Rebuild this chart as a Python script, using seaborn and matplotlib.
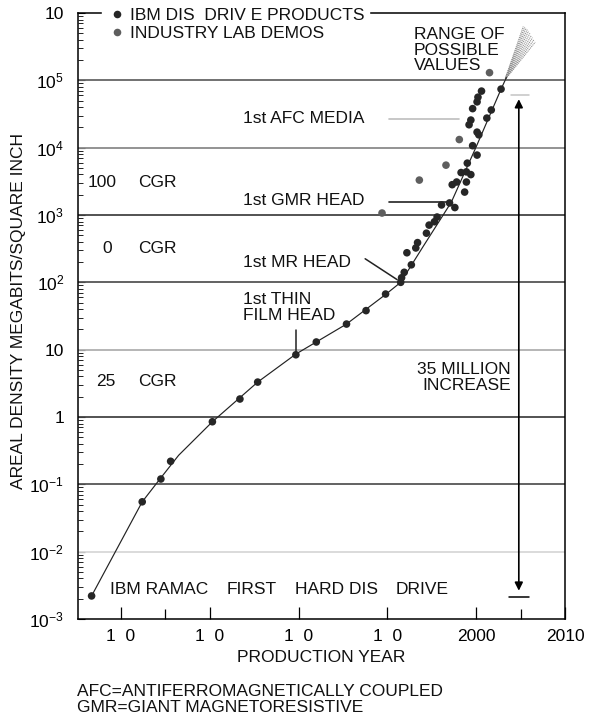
import numpy as np
import pandas as pd
import matplotlib
matplotlib.use("Agg")
import matplotlib.pyplot as plt
import seaborn as sns
from matplotlib.ticker import FixedLocator, LogLocator, NullFormatter

# ---------------- data ----------------
product_years = [1956.7, 1962.4, 1964.5, 1965.6, 1970.3, 1973.4, 1975.4, 1979.7,
                 1982.0, 1985.4, 1987.6, 1989.8, 1991.5, 1991.6, 1991.9, 1992.7,
                 1992.2, 1993.2, 1993.4, 1994.4, 1994.7, 1995.3, 1995.6, 1996.1,
                 1997.0, 1997.6, 1997.3, 1997.8, 1998.9, 1998.7, 1998.3, 1998.9,
                 1999.4, 1999.0, 2000.1, 1999.6, 2000.3, 2000.1, 1999.2, 1999.4,
                 2001.2, 1999.6, 2001.7, 2000.1, 2000.2, 2000.6, 2002.8]
product_density = [0.0022, 0.055, 0.12, 0.22, 0.85, 1.85, 3.3, 8.4,
                   13, 24, 38, 67, 100, 117, 141, 182,
                   275, 324, 389, 537, 708, 794, 933, 1410,
                   1510, 1290, 2820, 3090, 3090, 2190, 4270, 4370,
                   3980, 5890, 7760, 10700, 15500, 17000, 21900, 25700,
                   27500, 38000, 36300, 47900, 56200, 69200, 74100]
demo_years = [1989.4, 1993.6, 1996.6, 1998.1, 2001.5]
demo_density = [1070, 3300, 5500, 13200, 130000]

trend_years = [1956.7, 1962.4, 1964.5, 1966.5, 1970.3, 1975.4, 1979.7, 1985.4,
               1989.8, 1991.5, 1994.0, 1997.2, 2000.0, 2002.8, 2003.4]
trend_density = [0.0022, 0.055, 0.125, 0.27, 0.85, 3.3, 8.6, 24,
                 66, 100, 336, 1550, 10300, 74000, 110000]

fan_apex_year, fan_apex_density = 2003.2, 1.0e5
fan_end_years = [2005.3, 2005.45, 2005.6, 2005.75, 2005.9, 2006.05, 2006.2,
                 2006.35, 2006.5, 2006.65]
fan_end_density = [6.3e5, 6.2e5, 6.0e5, 5.7e5, 5.4e5, 5.0e5, 4.6e5,
                   4.3e5, 4.0e5, 3.7e5]

decades = [-3, -2, -1, 0, 1, 2, 3, 4, 5, 6]
ytick_labels = ['10$^{-3}$', '10$^{-2}$', '10$^{-1}$', '1', '10',
                '10$^{2}$', '10$^{3}$', '10$^{4}$', '10$^{5}$', '10']
grid_colors = ['none', '#d8d8d8', '#555555', '#444444', '#b0b0b0',
               '#555555', '#444444', '#8a8a8a', '#666666', 'none']
xtick_years = [1960, 1970, 1980, 1990, 2000, 2010]
xtick_labels = ['1  0', '1  0', '1  0', '1  0', '2000', '2010']
xminor_years = [1965, 2005]

LAB_PROD = 'IBM DIS  DRIV E PRODUCTS'
LAB_DEMO = 'INDUSTRY LAB DEMOS'

df = pd.DataFrame({
    'year': product_years + demo_years,
    'density': product_density + demo_density,
    'source': [LAB_PROD] * len(product_years) + [LAB_DEMO] * len(demo_years),
})

# ---------------- style ----------------
sns.set_theme(style='white')
plt.rcParams['font.family'] = ['Liberation Sans', 'DejaVu Sans']
plt.rcParams['mathtext.fontset'] = 'custom'
plt.rcParams['mathtext.rm'] = 'Liberation Sans'
plt.rcParams['mathtext.it'] = 'Liberation Sans'
plt.rcParams['mathtext.bf'] = 'Liberation Sans:bold'
plt.rcParams['text.color'] = '#111111'
FS = 12.5

fig = plt.figure(figsize=(5.89, 7.22), dpi=100)
W, H = 589, 722
ax = fig.add_axes([78 / W, 1 - 619 / H, (565 - 78) / W, (619 - 13) / H])
ax.set_yscale('log')
ax.set_xlim(1955.17, 2010)
ax.set_ylim(1e-3, 1e6)

# horizontal decade lines
for d, c in zip(decades, grid_colors):
    if c != 'none':
        ax.axhline(10.0 ** d, color=c, lw=1.3, zorder=1)

# fan of possible values
for ey, ed in zip(fan_end_years, fan_end_density):
    ax.plot([fan_apex_year, ey], [fan_apex_density, ed], color='#8c8c8c',
            lw=0.7, ls=(0, (1.2, 0.8)), zorder=2)

# trend line
sns.lineplot(x=trend_years, y=trend_density, ax=ax, color='#222222', lw=0.85,
             sort=False, estimator=None, zorder=3)

# points
sns.scatterplot(data=df, x='year', y='density', hue='source',
                palette={LAB_PROD: '#262626', LAB_DEMO: '#5e5e5e'},
                s=30, edgecolor='none', ax=ax, zorder=4)

handles, labels = ax.get_legend_handles_labels()
leg = ax.legend(handles, labels, loc='upper left',
                bbox_to_anchor=(102 / W, 1 - 3 / H), bbox_transform=fig.transFigure,
                frameon=True, facecolor='white', edgecolor='white', framealpha=1,
                fancybox=False, fontsize=FS, borderpad=0.3, borderaxespad=0,
                handlelength=1.1, handletextpad=0.2, labelspacing=0.15,
                markerscale=1.0)
leg.set_zorder(10)

# ---------------- axes / ticks ----------------
for s in ax.spines.values():
    s.set_color('black')
    s.set_linewidth(1.1)
    s.set_visible(True)

ax.yaxis.set_major_locator(FixedLocator([10.0 ** d for d in decades]))
ax.set_yticklabels(ytick_labels)
ax.yaxis.set_minor_locator(LogLocator(base=10, subs=np.arange(2, 10)))
ax.yaxis.set_minor_formatter(NullFormatter())
ax.tick_params(axis='y', which='major', direction='in', left=True, length=5,
               width=0.8, pad=10, labelsize=FS, colors='black')
ax.tick_params(axis='y', which='minor', direction='in', left=True, length=3.5,
               width=0.6, colors='black')

ax.set_xticks(xtick_years)
ax.set_xticklabels(xtick_labels)
ax.set_xticks(xminor_years, minor=True)
ax.tick_params(axis='x', which='major', direction='in', bottom=True, length=9,
               width=0.9, pad=7, labelsize=FS, colors='black')
ax.tick_params(axis='x', which='minor', direction='in', bottom=True, length=7.5,
               width=0.9, colors='black')

ax.set_xlabel('PRODUCTION YEAR', fontsize=FS, va='center', color='#111111')
ax.xaxis.set_label_coords(0.5, (619 - 657) / 606)
ax.set_ylabel('AREAL DENSITY MEGABITS/SQUARE INCH', fontsize=FS, va='center',
              color='#111111')
ax.yaxis.set_label_coords((19 - 78) / 487, (619 - 311) / 606)

# ---------------- annotations ----------------
def ly(v):
    return 10.0 ** v

ax.text(1993.0, ly(5.45), 'RANGE OF\nPOSSIBLE\nVALUES', fontsize=FS,
        ha='left', va='center', linespacing=1.05)
ax.text(1973.7, ly(4.43), '1st AFC MEDIA', fontsize=FS, ha='left', va='center')
ax.plot([1990.2, 1998.1], [ly(4.43)] * 2, color='#bdbdbd', lw=1.2, zorder=2)
ax.text(1973.7, ly(3.21), '1st GMR HEAD', fontsize=FS, ha='left', va='center')
ax.plot([1990.2, 1997.0], [ly(3.195)] * 2, color='#222222', lw=1.2, zorder=2)
ax.text(1973.7, ly(2.30), '1st MR HEAD', fontsize=FS, ha='left', va='center')
ax.plot([1987.5, 1991.1], [ly(2.35), ly(2.04)], color='#222222', lw=1.1, zorder=2)
ax.text(1973.7, ly(1.63), '1st THIN\nFILM HEAD', fontsize=FS, ha='left',
        va='center', linespacing=1.05)
ax.plot([1979.7, 1979.7], [ly(1.29), ly(0.95)], color='#222222', lw=1.1, zorder=2)

ax.text(1956.2, ly(3.48), '100', fontsize=FS, ha='left', va='center')
ax.text(1961.9, ly(3.48), 'CGR', fontsize=FS, ha='left', va='center')
ax.text(1957.9, ly(2.50), '0', fontsize=FS, ha='left', va='center')
ax.text(1961.9, ly(2.50), 'CGR', fontsize=FS, ha='left', va='center')
ax.text(1957.2, ly(0.52), '25', fontsize=FS, ha='left', va='center')
ax.text(1961.9, ly(0.52), 'CGR', fontsize=FS, ha='left', va='center')

ax.text(2003.9, ly(0.59), '35 MILLION\nINCREASE', fontsize=FS, ha='right',
        va='center', multialignment='right', linespacing=1.05)

ax.text(1958.76, ly(-2.56), 'IBM RAMAC', fontsize=FS, ha='left', va='center')
ax.text(1971.9, ly(-2.56), 'FIRST', fontsize=FS, ha='left', va='center')
ax.text(1979.55, ly(-2.56), 'HARD DIS', fontsize=FS, ha='left', va='center')
ax.text(1990.9, ly(-2.56), 'DRIVE', fontsize=FS, ha='left', va='center')

# 35 million increase arrow
ax.annotate('', xy=(2004.8, ly(4.72)), xytext=(2004.8, ly(-2.58)),
            arrowprops=dict(arrowstyle='<|-|>', color='black', lw=1.2,
                            mutation_scale=12, shrinkA=0, shrinkB=0), zorder=5)
ax.plot([2003.7, 2006.0], [ly(-2.67)] * 2, color='black', lw=1.1, zorder=5)
ax.plot([2003.9, 2006.0], [ly(4.78)] * 2, color='#c4c4c4', lw=1.1, zorder=5)

fig.text(77 / W, 1 - 692 / H, 'AFC=ANTIFERROMAGNETICALLY COUPLED', fontsize=FS,
         ha='left', va='center')
fig.text(77 / W, 1 - 707 / H, 'GMR=GIANT MAGNETORESISTIVE', fontsize=FS,
         ha='left', va='center')

fig.savefig('out.png', dpi=100, facecolor='white')
